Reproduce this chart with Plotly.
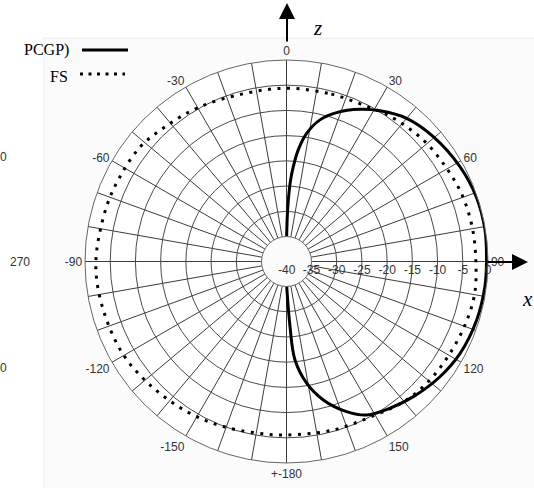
import plotly.graph_objects as go

W, H = 534, 488

# Measured radiation patterns (angle in degrees clockwise from +z, level in dB)
pcgp_theta = [0.3, 1.0, 1.7, 2.8, 4.1, 6.0, 9.0, 13.3, 18.6, 25.8, 31.8, 40.0, 49.6,
              61.4, 71.2, 81.0, 90.0, 97.2, 107.1, 117.9, 126.9, 136.8, 144.8, 152.4,
              158.2, 165.1, 170.6, 175.1, 176.9, 179.5]
pcgp_db = [-35.0, -31.0, -27.8, -24.0, -21.1, -17.7, -14.2, -11.1, -8.8, -6.45, -4.8, -2.9,
           -1.75, -0.75, -0.2, -0.1, -0.3, -0.3, -0.5, -1.0, -1.9, -3.2, -4.35, -5.6,
           -7.9, -11.55, -15.5, -20.4, -27.0, -35.0]

fs_theta = [0, 15, 28, 35, 48, 60, 70, 80, 90, 100, 110, 120, 130, 140, 150, 165, 180,
            187, 201, 214, 228, 240, 252, 264, 273, 287, 297, 308, 318, 330, 345, 360]
fs_db = [-5.6, -5.6, -5.3, -4.6, -3.7, -3.2, -2.7, -2.5, -2.4, -2.1, -2.4, -2.8, -3.1,
         -3.7, -4.8, -5.3, -5.55, -5.5, -4.9, -4.2, -3.45, -2.7, -2.45, -2.15, -2.25,
         -2.65, -2.9, -3.1, -4.0, -4.75, -5.6, -5.6]

# Axis labelling
ang_ticks = list(range(0, 360, 10))
ang_label_map = {0: "0", 30: "30", 60: "60", 90: "90", 120: "120", 150: "150",
                 180: "+-180", 210: "-150", 240: "-120", 270: "-90", 300: "-60", 330: "-30"}
ang_text = [ang_label_map.get(a, "") for a in ang_ticks]
rad_ticks = [-35, -30, -25, -20, -15, -10, -5, 0]
rad_text = [str(v) for v in rad_ticks]
legend_names = ["PCGP)", "FS"]


def px(x):
    return x / W


def py(y):
    return 1 - y / H


sans = "Liberation Sans, Arial, sans-serif"
serif = "Liberation Serif, Times New Roman, serif"
label_font = dict(family=sans, size=12, color="#333")

fig = go.Figure()
fig.add_trace(go.Scatterpolar(r=pcgp_db, theta=pcgp_theta, mode="lines",
                              line=dict(color="black", width=3, shape="spline"),
                              name=legend_names[0], showlegend=False))
fig.add_trace(go.Scatterpolar(r=fs_db, theta=fs_theta, mode="lines",
                              line=dict(color="black", width=3, dash="3px,6.5px", shape="spline"),
                              name=legend_names[1], showlegend=False))

cx, cy, R = 286.5, 261.5, 201.5

fig.update_layout(
    width=W, height=H,
    margin=dict(l=0, r=0, t=0, b=0),
    paper_bgcolor="white",
    polar=dict(
        domain=dict(x=[px(cx - R), px(cx + R)], y=[py(cy + R), py(cy - R)]),
        bgcolor="white",
        hole=0.124,
        angularaxis=dict(
            rotation=90, direction="clockwise",
            tickmode="array", tickvals=ang_ticks, ticktext=ang_text,
            showline=True, linecolor="#666", linewidth=1,
            gridcolor="#3c3c3c", gridwidth=1, ticks="",
            tickfont=label_font,
        ),
        radialaxis=dict(
            range=[-35, 0], angle=0, side="clockwise",
            tickmode="array", tickvals=rad_ticks, ticktext=rad_text,
            showline=False, gridcolor="#4a4a4a", gridwidth=1, ticks="",
            tickfont=label_font,
        ),
    ),
    shapes=[
        dict(type="rect", xref="paper", yref="paper", x0=px(44), x1=1.02, y0=-0.02, y1=py(38),
             fillcolor="#fbfbfb", line=dict(color="#ececec", width=1), layer="below"),
        dict(type="line", xref="paper", yref="paper", x0=px(82), x1=px(128), y0=py(50), y1=py(50),
             line=dict(color="black", width=3)),
        dict(type="line", xref="paper", yref="paper", x0=px(80), x1=px(125), y0=py(74), y1=py(74),
             line=dict(color="black", width=3, dash="3px,5.5px")),
    ],
    annotations=[
        dict(x=px(71), y=py(50), xref="paper", yref="paper", text=legend_names[0], showarrow=False,
             xanchor="right", yanchor="middle", font=dict(family=serif, size=16, color="black")),
        dict(x=px(70), y=py(76), xref="paper", yref="paper", text=legend_names[1], showarrow=False,
             xanchor="right", yanchor="middle", font=dict(family=serif, size=16, color="black")),
        dict(x=px(287), y=py(270), xref="paper", yref="paper", text="-40", showarrow=False,
             xanchor="center", yanchor="middle", font=label_font),
        dict(x=px(20), y=py(262), xref="paper", yref="paper", text="270", showarrow=False,
             xanchor="center", yanchor="middle", font=label_font),
        dict(x=px(0), y=py(157), xref="paper", yref="paper", text="0", showarrow=False,
             xanchor="left", yanchor="middle", font=label_font, xshift=-2),
        dict(x=px(0), y=py(368), xref="paper", yref="paper", text="0", showarrow=False,
             xanchor="left", yanchor="middle", font=label_font, xshift=-2),
        # coordinate axes arrows
        dict(x=px(287), y=py(3), xref="paper", yref="paper", text="", showarrow=True,
             ax=0, ay=40, arrowhead=2, arrowsize=1.6, arrowwidth=2, arrowcolor="black"),
        dict(x=px(528), y=py(262), xref="paper", yref="paper", text="", showarrow=True,
             ax=-42, ay=0, arrowhead=2, arrowsize=1.6, arrowwidth=2, arrowcolor="black"),
        dict(x=px(317), y=py(28), xref="paper", yref="paper", text="<i>z</i>", showarrow=False,
             xanchor="center", yanchor="middle", font=dict(family=serif, size=21, color="black")),
        dict(x=px(527), y=py(299), xref="paper", yref="paper", text="<i>x</i>", showarrow=False,
             xanchor="center", yanchor="middle", font=dict(family=serif, size=21, color="black")),
    ],
)

fig.write_html("out.html")
